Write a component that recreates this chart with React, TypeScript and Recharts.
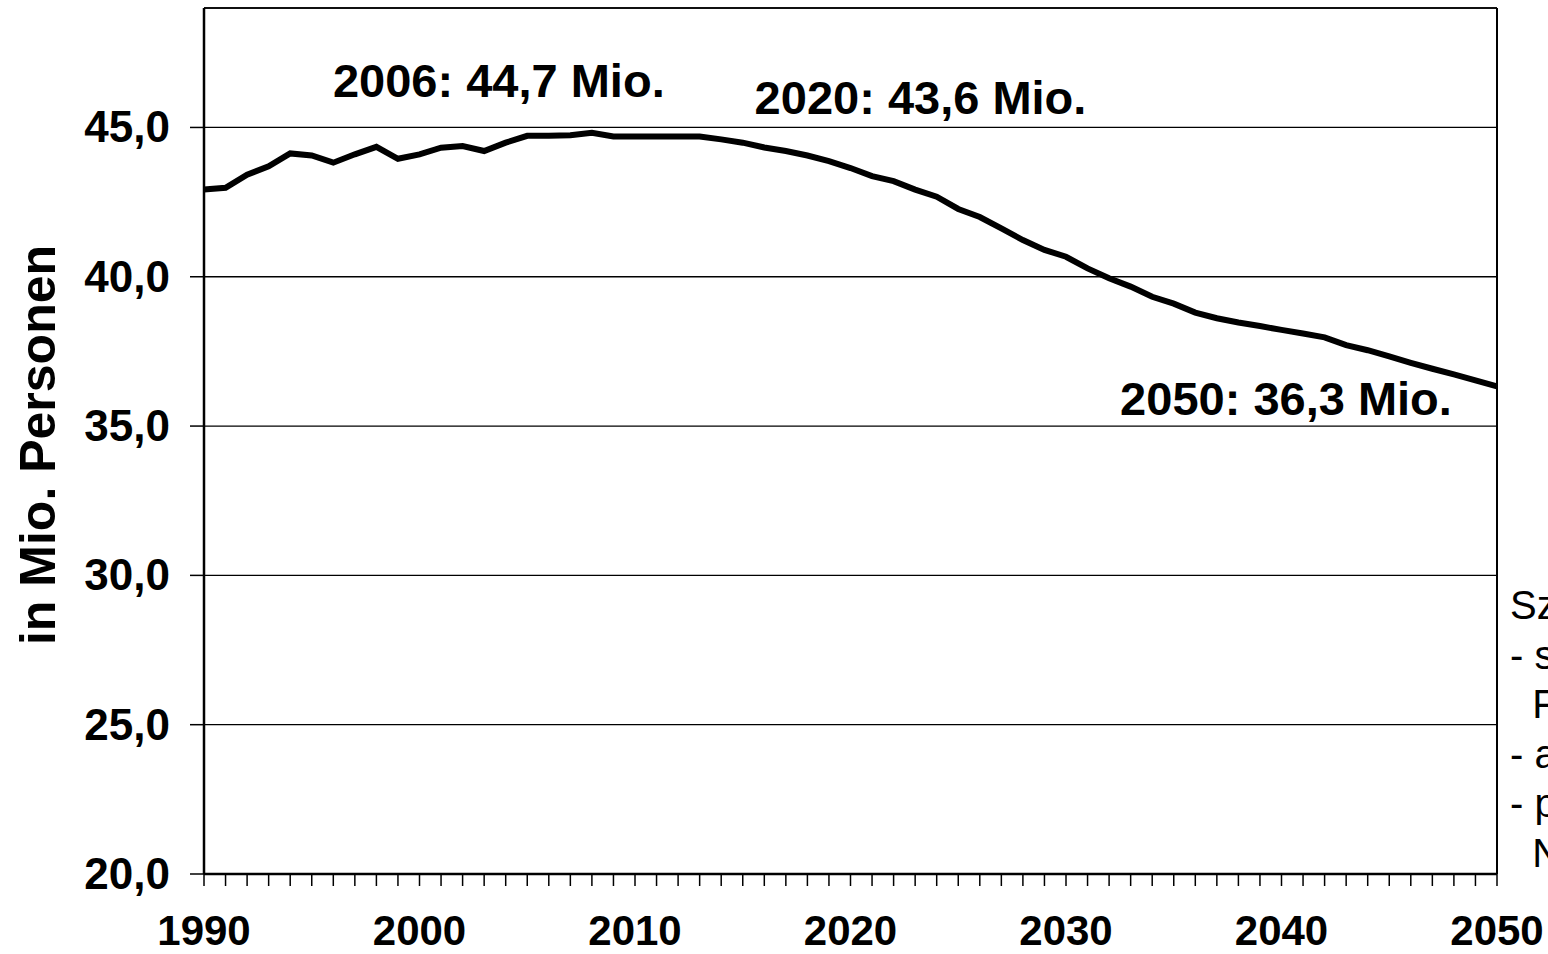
import React from "react";
import {
  LineChart,
  Line,
  XAxis,
  YAxis,
  CartesianGrid,
  ReferenceLine,
  ReferenceDot,
} from "recharts";

const FONT = "'Liberation Sans', Arial, sans-serif";

const years = [
  1990, 1991, 1992, 1993, 1994, 1995, 1996, 1997, 1998, 1999,
  2000, 2001, 2002, 2003, 2004, 2005, 2006, 2007, 2008, 2009,
  2010, 2011, 2012, 2013, 2014, 2015, 2016, 2017, 2018, 2019,
  2020, 2021, 2022, 2023, 2024, 2025, 2026, 2027, 2028, 2029,
  2030, 2031, 2032, 2033, 2034, 2035, 2036, 2037, 2038, 2039,
  2040, 2041, 2042, 2043, 2044, 2045, 2046, 2047, 2048, 2049,
  2050,
];

// Erwerbspersonen in Mio.
const persons = [
  42.92, 42.98, 43.42, 43.7, 44.13, 44.06, 43.82, 44.1, 44.35, 43.95,
  44.1, 44.32, 44.38, 44.21, 44.49, 44.72, 44.72, 44.74, 44.82, 44.7,
  44.7, 44.7, 44.7, 44.7, 44.6, 44.49, 44.33, 44.21, 44.06, 43.87,
  43.64, 43.37, 43.2, 42.92, 42.68, 42.27, 42.0, 41.62, 41.23, 40.9,
  40.67, 40.28, 39.95, 39.67, 39.33, 39.1, 38.8, 38.61, 38.47, 38.35,
  38.22, 38.1, 37.97, 37.71, 37.54, 37.33, 37.12, 36.92, 36.73, 36.53,
  36.33,
];

const xLabels = [1990, 2000, 2010, 2020, 2030, 2040, 2050];
const yTicks = [20, 25, 30, 35, 40, 45];
const yMax = 49;

const noteYears = [2006, 2020, 2050];
const noteValues = [44.7, 43.6, 36.3];
const noteTexts = ["2006: 44,7 Mio.", "2020: 43,6 Mio.", "2050: 36,3 Mio."];
const noteOffsets = [
  [-50, -39],
  [70, -55],
  [-211, 28],
];

const sideLines = ["Sz", "- s", "  F", "- a", "- p", "  N"];

const data = years.map((year, i) => ({ year, value: persons[i] }));

const XTick = (props: any) => {
  const { x, y, payload } = props;
  if (!xLabels.includes(payload.value)) return null;
  return (
    <text
      x={x}
      y={y + 57}
      textAnchor="middle"
      fontFamily={FONT}
      fontWeight="bold"
      fontSize={42}
      fill="#000"
    >
      {payload.value}
    </text>
  );
};

const YTick = (props: any) => {
  const { x, y, payload } = props;
  return (
    <text
      x={x - 18}
      y={y + 15}
      textAnchor="end"
      fontFamily={FONT}
      fontWeight="bold"
      fontSize={44}
      fill="#000"
    >
      {payload.value.toFixed(1).replace(".", ",")}
    </text>
  );
};

export default function App() {
  return (
    <div
      style={{
        position: "absolute",
        left: 0,
        top: 0,
        width: 1548,
        height: 954,
        overflow: "hidden",
        background: "#fff",
      }}
    >
      <LineChart
        width={1548}
        height={954}
        data={data}
        margin={{ top: 8, right: 51, bottom: 0, left: 0 }}
      >
        <CartesianGrid vertical={false} stroke="#000" strokeWidth={1.3} />
        <XAxis
          dataKey="year"
          type="number"
          domain={[1990, 2050]}
          ticks={years}
          interval={0}
          height={80}
          tickSize={12}
          tick={<XTick />}
          axisLine={{ stroke: "#000", strokeWidth: 2.5 }}
          tickLine={{ stroke: "#000", strokeWidth: 1.5 }}
        />
        <YAxis
          type="number"
          domain={[20, yMax]}
          ticks={yTicks}
          width={204}
          tickSize={14}
          tick={<YTick />}
          axisLine={{ stroke: "#000", strokeWidth: 2.5 }}
          tickLine={{ stroke: "#000", strokeWidth: 1.5 }}
        />
        <ReferenceLine y={yMax} stroke="#000" strokeWidth={1.5} />
        <ReferenceLine x={2050} stroke="#000" strokeWidth={2} />
        <Line
          type="linear"
          dataKey="value"
          stroke="#000"
          strokeWidth={6}
          dot={false}
          isAnimationActive={false}
        />
        {noteYears.map((yr, i) => (
          <ReferenceDot
            key={yr}
            x={yr}
            y={noteValues[i]}
            r={0}
            shape={(p: any) => (
              <text
                x={p.cx + noteOffsets[i][0]}
                y={p.cy + noteOffsets[i][1]}
                textAnchor="middle"
                fontFamily={FONT}
                fontWeight="bold"
                fontSize={47}
                fill="#000"
              >
                {noteTexts[i]}
              </text>
            )}
          />
        ))}
      </LineChart>
      <svg
        width={1548}
        height={954}
        style={{ position: "absolute", left: 0, top: 0, pointerEvents: "none" }}
      >
        <text
          transform="rotate(-90, 55, 445)"
          x={55}
          y={445}
          textAnchor="middle"
          fontFamily={FONT}
          fontWeight="bold"
          fontSize={50}
          fill="#000"
        >
          in Mio. Personen
        </text>
        {sideLines.map((t, i) => (
          <text
            key={i}
            x={1510}
            y={619 + i * 49.5}
            fontFamily={FONT}
            fontSize={40}
            fill="#000"
            style={{ whiteSpace: "pre" }}
          >
            {t}
          </text>
        ))}
      </svg>
    </div>
  );
}
